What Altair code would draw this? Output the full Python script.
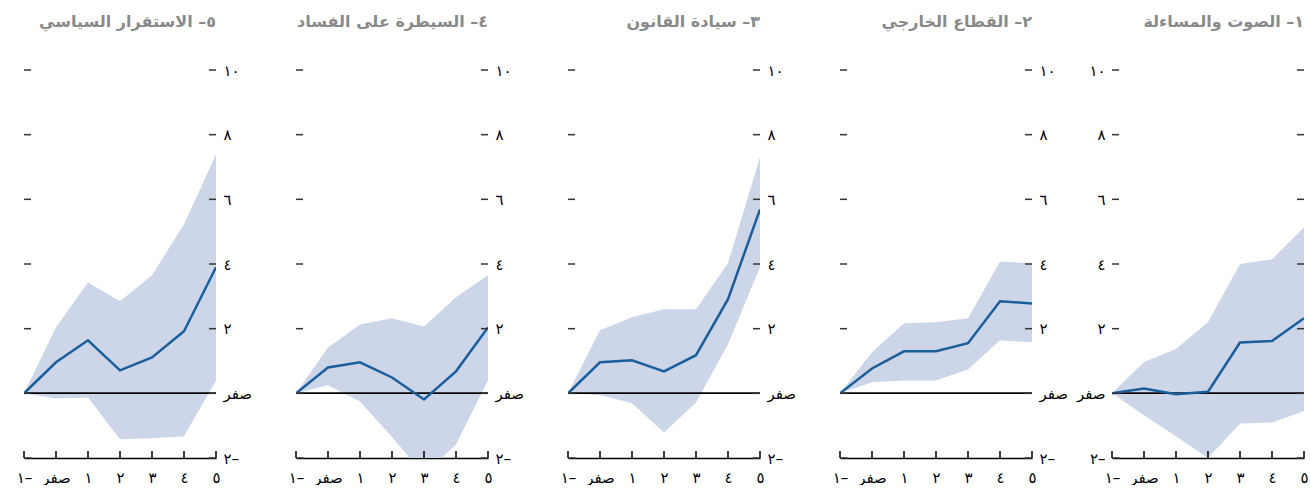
import altair as alt
import pandas as pd

FONT = "DejaVu Sans"
W, H = 192, 388

years = [-1, 0, 1, 2, 3, 4, 5]
x_labels = ["١–", "صفر", "١", "٢", "٣", "٤", "٥"]
y_ticks = [-2, 0, 2, 4, 6, 8, 10]
y_labels = ["٢–", "صفر", "٢", "٤", "٦", "٨", "١٠"]

titles = [
    "١– الصوت والمساءلة",
    "٢– القطاع الخارجي",
    "٣– سيادة القانون",
    "٤– السيطرة على الفساد",
    "٥– الاستقرار السياسي",
]

voice_mid = [0, 0.15, -0.03, 0.05, 1.57, 1.62, 2.32]
voice_hi = [0, 0.97, 1.37, 2.2, 4.0, 4.15, 5.13]
voice_lo = [0, -0.68, -1.33, -2.0, -0.93, -0.9, -0.55]

ext_mid = [0, 0.77, 1.30, 1.30, 1.55, 2.85, 2.78]
ext_hi = [0, 1.27, 2.17, 2.2, 2.32, 4.08, 4.02]
ext_lo = [0, 0.34, 0.40, 0.40, 0.74, 1.64, 1.58]

law_mid = [0, 0.96, 1.02, 0.68, 1.18, 2.91, 5.69]
law_hi = [0, 1.95, 2.35, 2.6, 2.6, 4.02, 7.3]
law_lo = [0, -0.05, -0.31, -1.21, -0.28, 1.52, 3.9]

corr_mid = [0, 0.80, 0.96, 0.49, -0.19, 0.68, 2.04]
corr_hi = [0, 1.42, 2.13, 2.32, 2.07, 2.97, 3.65]
corr_lo = [0, 0.25, -0.25, -1.35, -2.5, -1.58, 0.4]

stab_mid = [0, 0.96, 1.64, 0.71, 1.11, 1.92, 3.9]
stab_hi = [0, 2.04, 3.43, 2.85, 3.65, 5.23, 7.39]
stab_lo = [0, -0.16, -0.13, -1.42, -1.39, -1.33, 0.4]


def make_expr(values, labels):
    parts = [f"datum.value == {v} ? '{l}'" for v, l in zip(values, labels)]
    return " : ".join(parts) + " : ''"


x_expr = make_expr(years, x_labels)
y_expr = make_expr(y_ticks, y_labels)

BAND = "#cdd5e8"
LINE = "#1b5e9c"


def panel(title, mid, hi, lo, side):
    df = pd.DataFrame({"year": years, "mid": mid, "hi": hi, "lo": lo})
    xscale = alt.Scale(domain=[-1, 5], nice=False, zero=False)
    yscale = alt.Scale(domain=[-2, 10], nice=False, zero=False)
    xaxis = alt.Axis(values=years, labelExpr=x_expr, ticks=False, domain=True,
                     domainColor="black", domainWidth=1.5, grid=False,
                     labelFontSize=15, labelPadding=12, labelColor="black",
                     labelFont=FONT, labelFlush=False, title=None)
    yaxis = alt.Axis(orient=side, values=y_ticks, labelExpr=y_expr, ticks=False,
                     domain=False, grid=False, labelFontSize=15, labelPadding=7,
                     labelColor="black", labelFont=FONT, title=None)
    base = alt.Chart(df)
    area = base.mark_area(color=BAND, clip=True).encode(
        x=alt.X("year:Q", scale=xscale, axis=xaxis),
        y=alt.Y("lo:Q", scale=yscale, axis=yaxis),
        y2="hi:Q",
    )
    zero = base.mark_rule(color="black", strokeWidth=1).encode(y=alt.datum(0))
    line = base.mark_line(color=LINE, strokeWidth=2.5, clip=True).encode(
        x=alt.X("year:Q", axis=xaxis), y=alt.Y("mid:Q", axis=yaxis)
    )
    tick_x = alt.Chart(pd.DataFrame({"t": years})).mark_rule(
        color="black", strokeWidth=1.5
    ).encode(x=alt.X("t:Q", axis=xaxis), y=alt.value(H - 7), y2=alt.value(H))
    ydf = pd.DataFrame({"v": y_ticks})
    tick_l = alt.Chart(ydf).mark_rule(color="#333333", strokeWidth=1.5).encode(
        y=alt.Y("v:Q", axis=yaxis), x=alt.value(0), x2=alt.value(7)
    )
    tick_r = alt.Chart(ydf).mark_rule(color="#333333", strokeWidth=1.5).encode(
        y=alt.Y("v:Q", axis=yaxis), x=alt.value(W - 7), x2=alt.value(W)
    )
    return alt.layer(area, zero, line, tick_x, tick_l, tick_r).properties(
        width=W, height=H,
        title=alt.TitleParams(text=title, anchor="end", frame="group",
                              fontSize=16, fontWeight="bold", color="#8a8a8a",
                              font=FONT, baseline="alphabetic", offset=20),
    )


charts = [
    panel(titles[4], stab_mid, stab_hi, stab_lo, "right"),
    panel(titles[3], corr_mid, corr_hi, corr_lo, "right"),
    panel(titles[2], law_mid, law_hi, law_lo, "right"),
    panel(titles[1], ext_mid, ext_hi, ext_lo, "right"),
    panel(titles[0], voice_mid, voice_hi, voice_lo, "left"),
]

chart = alt.hconcat(*charts, spacing=80, bounds="flush").properties(
    padding={"left": 16, "top": 14, "right": 0, "bottom": 0}
).configure(background="white").configure_view(strokeWidth=0)

chart.save("out.html", embed_options={"renderer": "svg", "actions": False})
